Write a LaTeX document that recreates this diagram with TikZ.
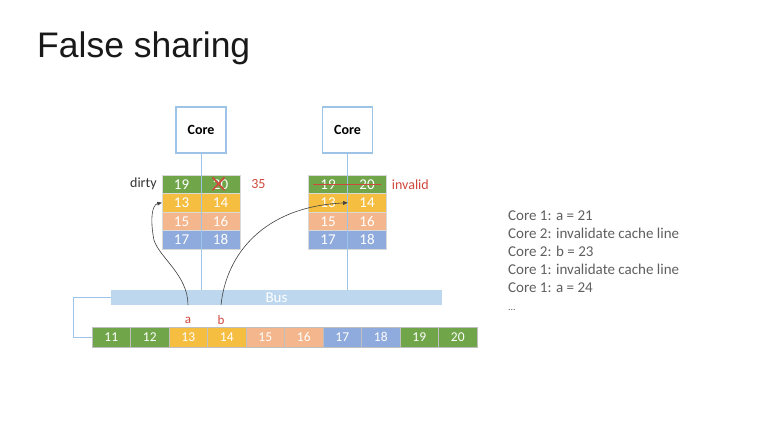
\documentclass[tikz,border=0pt]{standalone}
\usepackage{fontspec}
\setmainfont{Carlito}
\newfontfamily\titlefont{Liberation Sans}
\usepackage{tikz}
\usetikzlibrary{arrows.meta}
\definecolor{lgreen}{RGB}{112,165,74}
\definecolor{lgold}{RGB}{245,190,65}
\definecolor{lpeach}{RGB}{244,182,140}
\definecolor{lblue}{RGB}{143,170,220}
\definecolor{busfill}{RGB}{189,215,238}
\definecolor{wire}{RGB}{157,195,230}
\definecolor{warn}{RGB}{208,72,60}
\definecolor{quiet}{RGB}{95,95,95}

\begin{document}
\begin{tikzpicture}[
  x=1pt, y=-1pt,
  cell/.style={minimum width=39pt, minimum height=18.5pt, inner sep=0pt, text=white,
               draw=black!15, line width=0.3pt, font=\fontsize{15}{16}\selectfont},
  mcell/.style={cell, minimum width=38.5pt, minimum height=20pt, draw=black!25,
                font=\fontsize{13.5}{14}\selectfont},
  core/.style={draw=wire, line width=1.2pt, minimum width=50pt, minimum height=46pt,
               font=\bfseries\fontsize{14}{15}\selectfont},
  lane/.style={draw=wire, line width=1pt},
  link/.style={-{Triangle[length=1.6mm,width=1.3mm]}, draw=black!75, line width=0.6pt},
  strike/.style={draw=warn, line width=1.6pt},
  note/.style={font=\fontsize{14}{15}\selectfont, inner sep=0pt},
]
  \fill[white] (0,0) rectangle (773,421);

  % Title
  \node[anchor=base west, inner sep=0pt, text=black!90,
        font=\titlefont\fontsize{35.5}{40}\selectfont] (title) at (37,57) {False sharing};

  % Cores
  \node[core] (lcore) at (201,130) {Core};
  \node[core] (rcore) at (347.5,130) {Core};

  % Caches, one line per row
  \foreach \p/\x in {l/181.5, r/328} {
    \foreach \a/\b/\col [count=\r from 0] in {19/20/lgreen, 13/14/lgold, 15/16/lpeach, 17/18/lblue} {
      \node[cell, fill=\col] (\p c\a) at (\x, 184.25+18.5*\r) {\a};
      \node[cell, fill=\col] (\p c\b) at (\x+39, 184.25+18.5*\r) {\b};
    }
  }

  % Bus and memory
  \node[fill=busfill, minimum width=331pt, minimum height=15pt, inner sep=0pt, text=white,
        font=\fontsize{15}{16}\selectfont] (bus) at (276.5,297.5) {Bus};
  \foreach \n/\col [count=\i from 0] in {11/lgreen, 12/lgreen, 13/lgold, 14/lgold, 15/lpeach,
                                          16/lpeach, 17/lblue, 18/lblue, 19/lgreen, 20/lgreen}
    \node[mcell, fill=\col] (m\n) at (111.25+38.5*\i, 337) {\n};

  % Wires
  \draw[lane] (lcore.south) -- (lcore.south |- bus.north);
  \draw[lane] (rcore.south) -- (rcore.south |- bus.north);
  \draw[lane] (bus.west) -- ++(-37,0) |- (m11.west);

  % Labels
  \node[note, text=black!80, anchor=east] (dirty) at ([xshift=-5pt]lc19.west) {dirty};
  \node[note, text=warn, anchor=west] (val) at ([xshift=11pt]lc20.east) {35};
  \node[note, text=warn, anchor=west] (inv) at ([xshift=5pt]rc20.east) {invalid};
  \node[note, text=warn, font=\fontsize{13}{14}\selectfont] (a) at (188,320) {a};
  \node[note, text=warn, font=\fontsize{13}{14}\selectfont] (b) at (221,320) {b};

  % Writes crossed out
  \draw[strike] ([shift={(-8,-7)}]lc20.center) -- ([shift={(4,6)}]lc20.center);
  \draw[strike] ([shift={(4,-7)}]lc20.center) -- ([shift={(-8,6)}]lc20.center);
  \draw[strike, line width=1.3pt] ([xshift=5pt]rc19.west) -- ([xshift=-6pt]rc20.east);

  % Loads from memory into the caches
  \coordinate (ta) at (a.north |- bus.south);
  \coordinate (tb) at (b.north |- bus.south);
  \draw[link] (ta) .. controls +(0,-30) and +(6,18) .. ++(-34,-65)
                   .. controls +(-4,-20) and +(-10,2) .. (lc13.west);
  \draw[link] (tb) .. controls +(5,-50) and +(-85,4) .. (rc13.east);

  % Sequence of events
  \node[anchor=north west, align=left, inner sep=0pt, text=quiet,
        font=\fontsize{15}{18}\selectfont] (log) at (508,211)
    {Core 1: a = 21\\Core 2: invalidate cache line\\Core 2: b = 23\\
     Core 1: invalidate cache line\\Core 1: a = 24\\{\fontsize{10}{12}\selectfont ...}};
\end{tikzpicture}
\end{document}
